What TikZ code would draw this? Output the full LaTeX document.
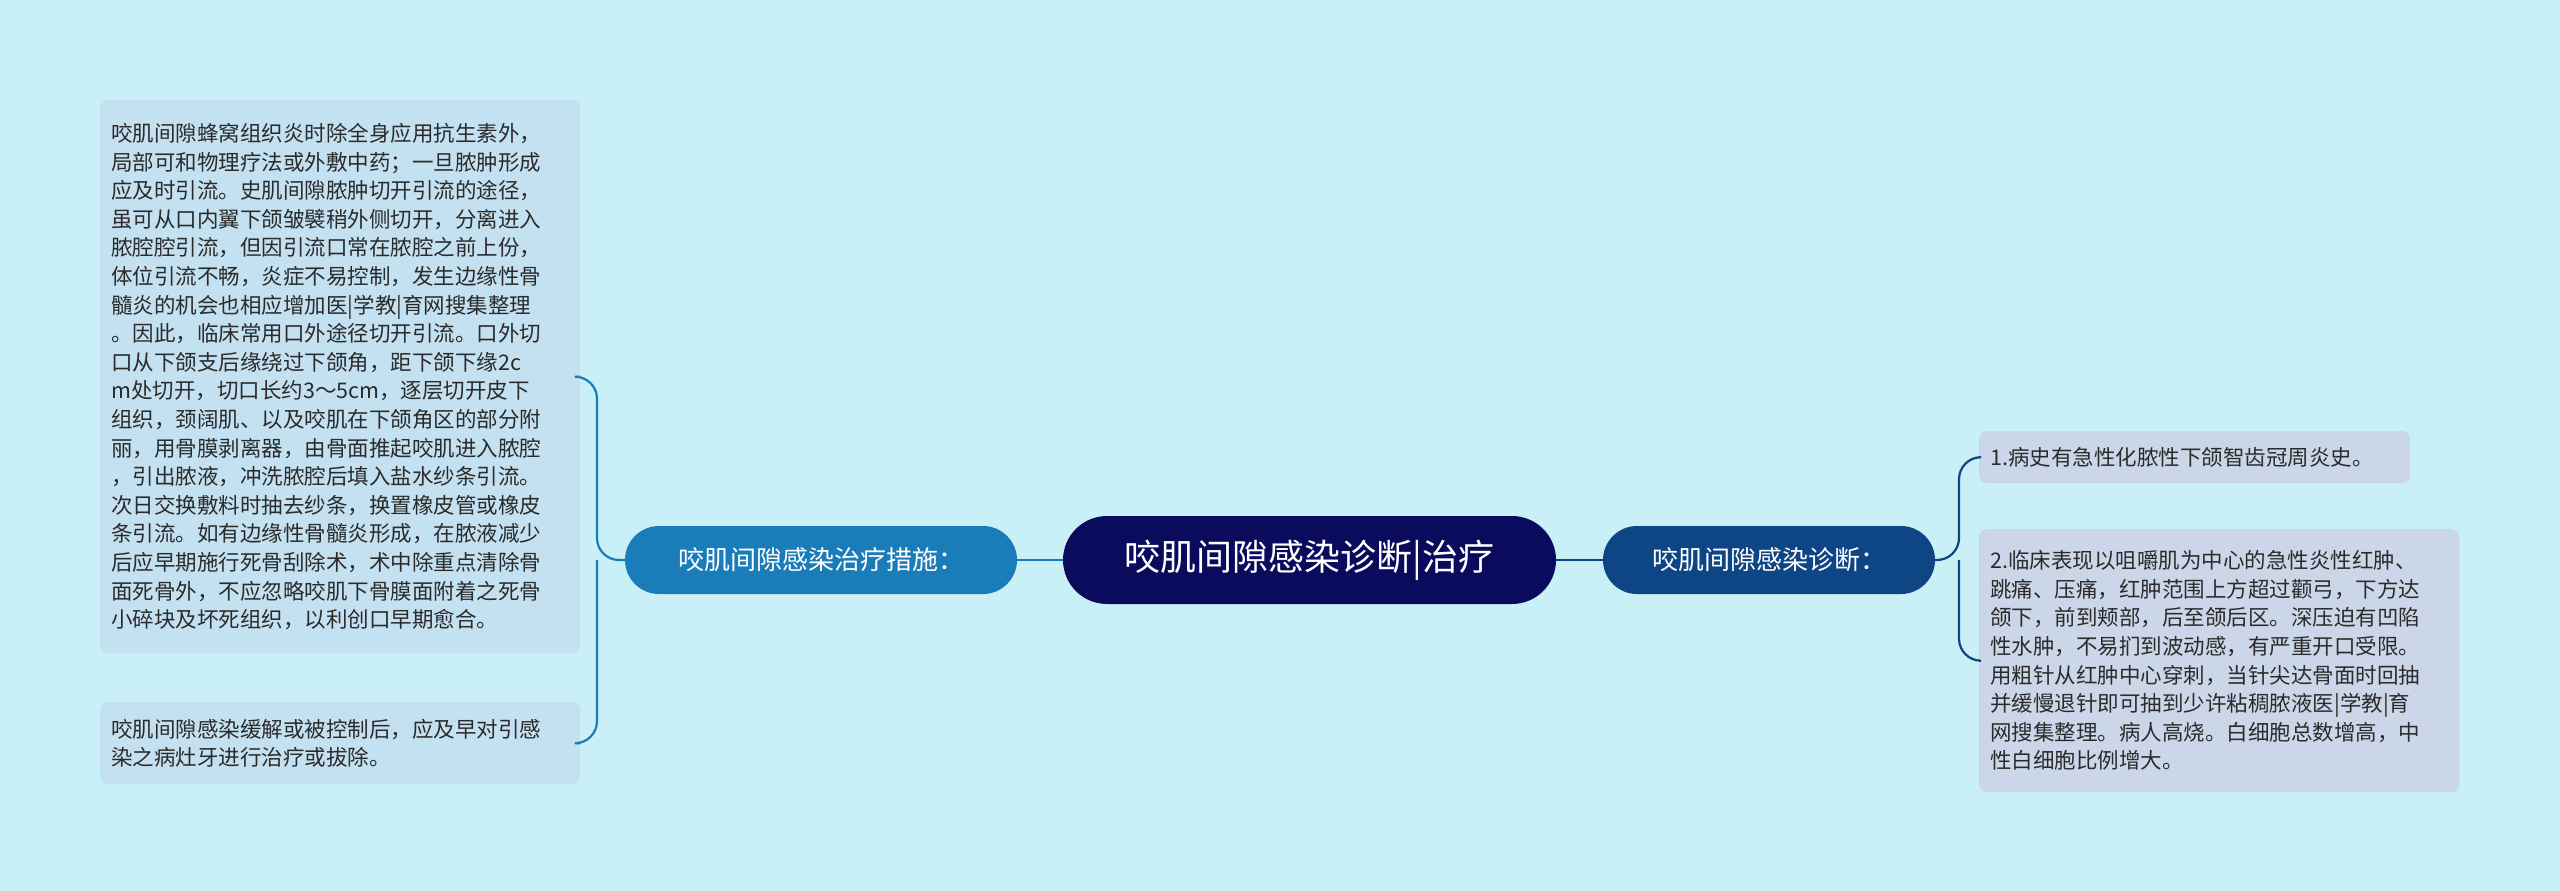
\documentclass[tikz,border=0pt]{standalone}
\usepackage{fontspec}
\setmainfont{Noto Sans CJK SC}
\definecolor{bg}{HTML}{C9EFF7}
\definecolor{cen}{HTML}{0B0B5E}
\definecolor{lbr}{HTML}{1A7CB8}
\definecolor{rbr}{HTML}{0E4585}
\definecolor{lleaf}{HTML}{C3E1F0}
\definecolor{rleaf}{HTML}{CBD7E8}
\definecolor{txt}{HTML}{2B2B2B}
\tikzset{
 leafbox/.style={rounded corners=8pt,inner xsep=11pt,inner ysep=6pt,align=left,text=txt,font=\fontsize{21.5}{28.6}\selectfont,anchor=north west},
 branchbox/.style={rounded corners=34pt,text=white,font=\fontsize{26}{30}\selectfont,minimum height=68pt},
 conn/.style={line width=2.2pt,rounded corners=22pt}
}
\begin{document}
\begin{tikzpicture}[x=1pt,y=-1pt]
\fill[bg] (0,0) rectangle (2560,891);
\useasboundingbox (0,0) rectangle (2560,891);
\node[fill=cen,rounded corners=44pt,text=white,font=\fontsize{36}{40}\selectfont,minimum width=493pt,minimum height=88pt] (c) at (1309.5,560) {咬肌间隙感染诊断|治疗};
\node[branchbox,fill=lbr,minimum width=392pt] (lb) at (821,560) {咬肌间隙感染治疗措施：};
\node[branchbox,fill=rbr,minimum width=332pt] (rb) at (1769,560) {咬肌间隙感染诊断：};
\node[leafbox,fill=lleaf,text width=458pt,minimum height=553pt] (l1) at (100,100) {咬肌间隙蜂窝组织炎时除全身应用抗生素外，\\局部可和物理疗法或外敷中药；一旦脓肿形成\\应及时引流。史肌间隙脓肿切开引流的途径，\\虽可从口内翼下颌皱襞稍外侧切开，分离进入\\脓腔腔引流，但因引流口常在脓腔之前上份，\\体位引流不畅，炎症不易控制，发生边缘性骨\\髓炎的机会也相应增加医|学教|育网搜集整理\\。因此，临床常用口外途径切开引流。口外切\\口从下颌支后缘绕过下颌角，距下颌下缘2c\\m处切开，切口长约3～5cm，逐层切开皮下\\组织，颈阔肌、以及咬肌在下颌角区的部分附\\丽，用骨膜剥离器，由骨面推起咬肌进入脓腔\\，引出脓液，冲洗脓腔后填入盐水纱条引流。\\次日交换敷料时抽去纱条，换置橡皮管或橡皮\\条引流。如有边缘性骨髓炎形成，在脓液减少\\后应早期施行死骨刮除术，术中除重点清除骨\\面死骨外，不应忽略咬肌下骨膜面附着之死骨\\小碎块及坏死组织，以利创口早期愈合。};
\node[leafbox,fill=lleaf,text width=458pt,minimum height=82pt] (l2) at (100,702) {咬肌间隙感染缓解或被控制后，应及早对引感\\染之病灶牙进行治疗或拔除。};
\node[leafbox,fill=rleaf,text width=409pt,minimum height=52pt] (r1) at (1979,431) {1.病史有急性化脓性下颌智齿冠周炎史。};
\node[leafbox,fill=rleaf,text width=458pt,minimum height=263pt] (r2) at (1979,529) {2.临床表现以咀嚼肌为中心的急性炎性红肿、\\跳痛、压痛，红肿范围上方超过颧弓，下方达\\颌下，前到颊部，后至颌后区。深压迫有凹陷\\性水肿，不易扪到波动感，有严重开口受限。\\用粗针从红肿中心穿刺，当针尖达骨面时回抽\\并缓慢退针即可抽到少许粘稠脓液医|学教|育\\网搜集整理。病人高烧。白细胞总数增高，中\\性白细胞比例增大。};
\draw[lbr,line width=2.2pt] (c.west) -- (lb.east);
\draw[rbr,line width=2.2pt] (c.east) -- (rb.west);
\draw[lbr,conn] (lb.west) -- (597,560) |- (l1.east);
\draw[lbr,conn] (597,560) |- (l2.east);
\draw[rbr,conn] (rb.east) -- (1959,560) |- (r1.west);
\draw[rbr,conn] (1959,560) |- (r2.west);
\end{tikzpicture}
\end{document}
